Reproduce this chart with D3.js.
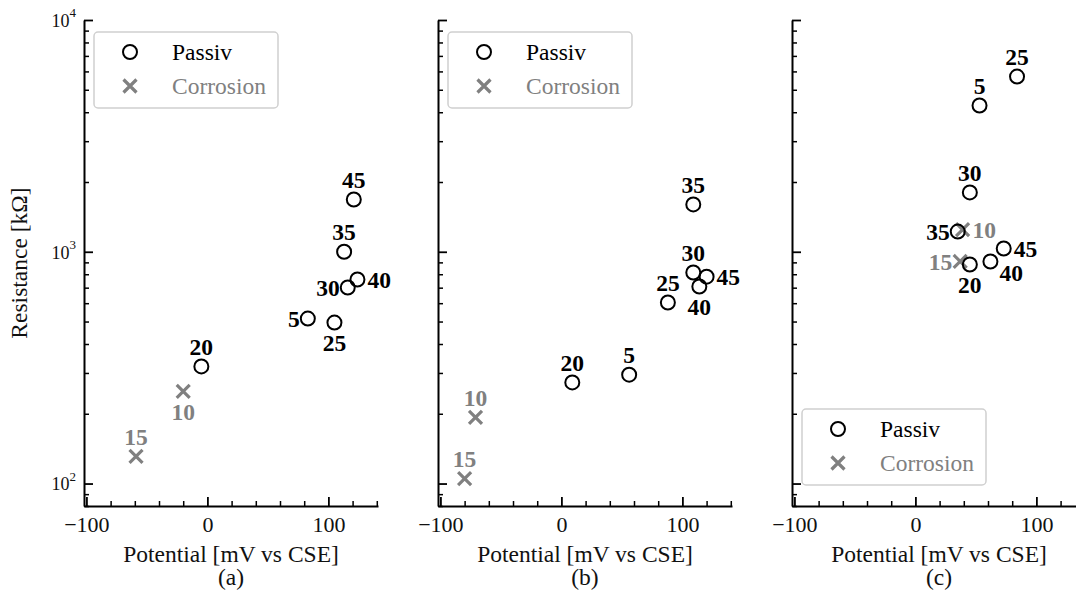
<!DOCTYPE html>
<html>
<head>
<meta charset="utf-8">
<script src="https://cdn.jsdelivr.net/npm/d3@7"></script>
<style>
body { margin: 0; background: #fff; }
text { font-family: "Liberation Serif", "Times New Roman", serif; }
</style>
</head>
<body>
<script>
// sample ids (days) and which of them are corroded
var samples = [5, 10, 15, 20, 25, 30, 35, 40, 45];
var corroded = [10, 15];

// potential [mV vs CSE] and resistance [kOhm], one pair of arrays per panel
var potentialA = [83, -20, -59, -5, 105, 116, 113, 124, 121];
var resistanceA = [515, 250, 131, 320, 495, 701, 1000, 759, 1681];
var potentialB = [56, -71, -80, 9, 88, 109, 109, 114, 120];
var resistanceB = [295, 193, 105, 273, 604, 814, 1600, 708, 781];
var potentialC = [53, 39, 37, 45, 84, 45, 35, 62, 73];
var resistanceC = [4276, 1247, 908, 881, 5700, 1803, 1222, 908, 1033];

var panelNames = ["(a)", "(b)", "(c)"];
var xTicks = [-100, 0, 100];
var yTicks = [100, 1000, 10000];

// where each number label sits around its marker
var sideA = ["l", "b", "t", "t", "b", "l", "t", "r", "t"];
var sideB = ["t", "t", "t", "t", "t", "t", "t", "b", "r"];
var sideC = ["t", "r", "l", "b", "t", "t", "l", "br", "r"];

var panels = [
  {name: panelNames[0], x: potentialA, y: resistanceA, side: sideA, left: 84, legend: "top", yLabels: true},
  {name: panelNames[1], x: potentialB, y: resistanceB, side: sideB, left: 438, legend: "top", yLabels: false},
  {name: panelNames[2], x: potentialC, y: resistanceC, side: sideC, left: 792, legend: "bottom", yLabels: false}
];

var W = 1076, H = 594,
    marginTop = 20, plotW = 294, plotH = 486;
var grey = "#808080";

var svg = d3.select("body").append("svg")
    .attr("width", W)
    .attr("height", H);

var x = d3.scaleLinear().domain([-102, 141]).range([0, plotW]);
var y = d3.scaleLog().domain([80, 10000]).range([plotH, 0]);

var minorX = d3.range(-100, 141, 20).filter(function(d) { return xTicks.indexOf(d) < 0; });
var minorY = [];
[10, 100, 1000].forEach(function(b) {
  for (var k = 2; k <= 9; k++) if (b * k >= 80 && b * k < 10000) minorY.push(b * k);
});

var offsets = {
  t: [0, -20, "middle"], b: [0, 20, "middle"],
  l: [-8, 0, "end"], r: [10, 0, "start"], br: [9, 11, "start"]
};

function crossPath(s) {
  return "M" + -s + "," + -s + "L" + s + "," + s + "M" + -s + "," + s + "L" + s + "," + -s;
}

panels.forEach(function(p) {
  var g = svg.append("g").attr("transform", "translate(" + p.left + "," + marginTop + ")");

  // minor ticks
  g.append("g")
      .attr("transform", "translate(0," + plotH + ")")
      .call(d3.axisBottom(x).tickValues(minorX).tickSize(-5).tickFormat(""))
      .call(function(a) { a.select(".domain").remove(); a.selectAll("line").attr("stroke-width", 1.5); });
  g.append("g")
      .call(d3.axisLeft(y).tickValues(minorY).tickSize(-5).tickFormat(""))
      .call(function(a) { a.select(".domain").remove(); a.selectAll("line").attr("stroke-width", 1.5); });

  // major ticks + labels
  var xa = g.append("g")
      .attr("transform", "translate(0," + plotH + ")")
      .call(d3.axisBottom(x).tickValues(xTicks).tickSize(-9).tickPadding(10).tickSizeOuter(0));
  xa.select(".domain").attr("stroke-width", 2);
  xa.selectAll("line").attr("stroke-width", 1.8);
  xa.selectAll("text").attr("font-size", 22).attr("fill", "#111");

  var ya = g.append("g")
      .call(d3.axisLeft(y).tickValues(yTicks).tickSize(-9).tickPadding(10).tickSizeOuter(0).tickFormat(""));
  ya.select(".domain").attr("stroke-width", 2);
  ya.selectAll("line").attr("stroke-width", 1.8);
  if (p.yLabels) {
    ya.selectAll(".tick").append("text")
        .attr("x", -8).attr("dy", "0.35em")
        .attr("text-anchor", "end")
        .attr("font-size", 18)
        .attr("fill", "#111")
        .text("10")
      .append("tspan")
        .attr("dy", "-0.75em")
        .attr("font-size", 13)
        .text(function(d) { return Math.round(Math.log10(d)); });
  }

  // axis titles
  g.append("text")
      .attr("x", plotW / 2).attr("y", plotH + 56)
      .attr("text-anchor", "middle").attr("font-size", 23.5).attr("fill", "#111")
      .text("Potential [mV vs CSE]");
  g.append("text")
      .attr("x", plotW / 2).attr("y", plotH + 79)
      .attr("text-anchor", "middle").attr("font-size", 23.5).attr("fill", "#111")
      .text(p.name);
  if (p.yLabels) {
    g.append("text")
        .attr("transform", "translate(" + (-57) + "," + (plotH / 2) + ") rotate(-90)")
        .attr("text-anchor", "middle").attr("font-size", 23.5).attr("fill", "#111")
        .text("Resistance [kΩ]");
  }

  // points
  var pts = samples.map(function(s, i) {
    return {id: s, x: p.x[i], y: p.y[i], side: p.side[i], bad: corroded.indexOf(s) >= 0};
  });

  var mark = g.selectAll(".pt").data(pts).enter().append("g")
      .attr("class", "pt")
      .attr("transform", function(d) { return "translate(" + x(d.x) + "," + y(d.y) + ")"; });

  mark.filter(function(d) { return !d.bad; }).append("circle")
      .attr("r", 7).attr("fill", "none").attr("stroke", "#000").attr("stroke-width", 2);
  mark.filter(function(d) { return d.bad; }).append("path")
      .attr("d", crossPath(6.5)).attr("stroke", grey).attr("stroke-width", 3.2).attr("fill", "none");

  mark.append("text")
      .attr("x", function(d) { return offsets[d.side][0]; })
      .attr("y", function(d) { return offsets[d.side][1]; })
      .attr("dy", "0.35em")
      .attr("text-anchor", function(d) { return offsets[d.side][2]; })
      .attr("font-size", 23.5).attr("font-weight", "bold")
      .attr("fill", function(d) { return d.bad ? grey : "#000"; })
      .text(function(d) { return d.id; });

  // legend
  var ly = p.legend === "top" ? 12 : plotH - 97;
  var leg = g.append("g").attr("transform", "translate(10," + ly + ")");
  leg.append("rect")
      .attr("width", 184).attr("height", 76).attr("rx", 4)
      .attr("fill", "#fff").attr("fill-opacity", 0.8)
      .attr("stroke", "#d0d0d0").attr("stroke-width", 1.5);
  leg.append("circle")
      .attr("cx", 36).attr("cy", 20).attr("r", 7)
      .attr("fill", "none").attr("stroke", "#000").attr("stroke-width", 2);
  leg.append("path")
      .attr("transform", "translate(36,54)")
      .attr("d", crossPath(6.5)).attr("stroke", grey).attr("stroke-width", 3.2);
  leg.append("text")
      .attr("x", 78).attr("y", 20).attr("dy", "0.35em")
      .attr("font-size", 23.5).attr("fill", "#000").text("Passiv");
  leg.append("text")
      .attr("x", 78).attr("y", 54).attr("dy", "0.35em")
      .attr("font-size", 23.5).attr("fill", grey).text("Corrosion");
});
</script>
</body>
</html>
